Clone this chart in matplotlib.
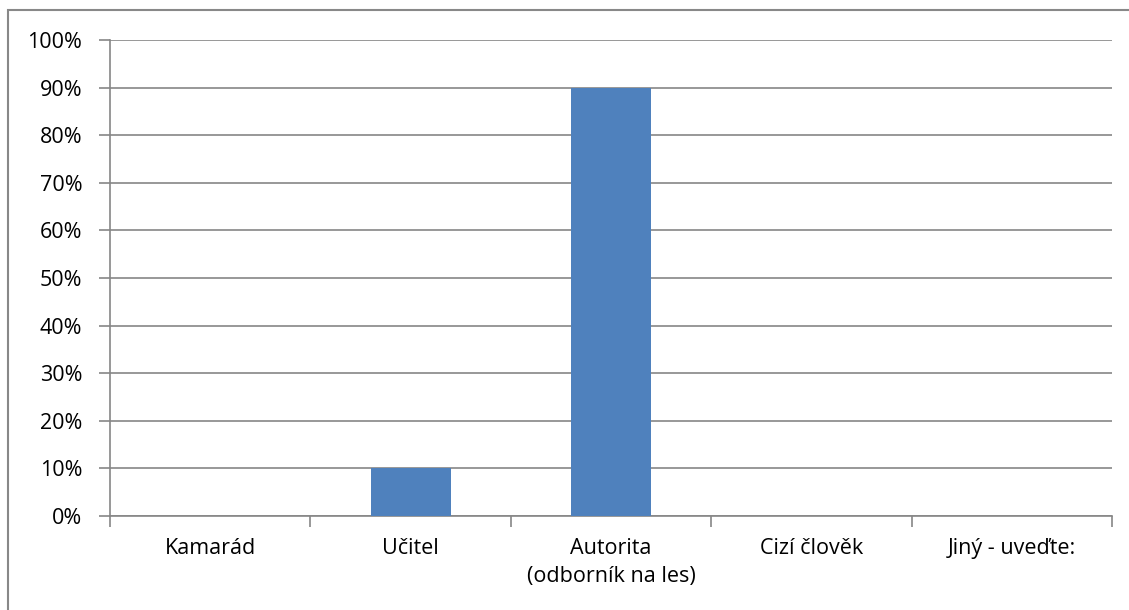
import numpy as np
import matplotlib.pyplot as plt
import matplotlib.patches as mpatches

kategorie = ['Kamarád', 'Učitel', 'Autorita\n(odborník na les)', 'Cizí člověk', 'Jiný - uveďte:']
hodnoty = [0, 10, 90, 0, 0]
yticks = list(range(0, 101, 10))

plt.rcParams['font.family'] = ['Open Sans', 'DejaVu Sans']

fig = plt.figure(figsize=(11.29, 6.10), dpi=100)
fig.patch.set_facecolor('white')

# rámeček grafu (pravá a spodní hrana mimo obrázek)
W, H = 1129, 610
fig.patches.append(mpatches.Rectangle((8 / W, -0.1), 1.2, (610 - 10) / H + 0.1,
                                      transform=fig.transFigure, fill=False,
                                      edgecolor='#888888', linewidth=1.5))

ax = fig.add_axes([110 / W, (610 - 516) / H, (1112 - 110) / W, (516 - 40) / H])

x = np.arange(len(kategorie))
ax.bar(x, hodnoty, width=0.4, color='#4F81BD', zorder=3)

ax.set_xlim(-0.5, len(kategorie) - 0.5)
ax.set_ylim(0, 100)
ax.set_yticks(yticks)
ax.set_yticklabels([f'{v}%' for v in yticks], fontsize=15.5)
ax.yaxis.grid(True, color='#868686', linewidth=1.2, zorder=0)

ax.set_xticks(x)
ax.set_xticklabels(kategorie, fontsize=15.5, linespacing=1.45)
ax.set_xticks(np.arange(-0.5, len(kategorie), 1), minor=True)
ax.tick_params(axis='x', which='major', length=0, pad=16)
ax.tick_params(axis='x', which='minor', length=8, color='#868686', width=1.2)
ax.tick_params(axis='y', length=8, color='#868686', width=1.2, pad=12)

for s in ['top', 'right']:
    ax.spines[s].set_visible(False)
for s in ['left', 'bottom']:
    ax.spines[s].set_color('#868686')
    ax.spines[s].set_linewidth(1.2)

fig.savefig('out.png', dpi=100, facecolor='white')
